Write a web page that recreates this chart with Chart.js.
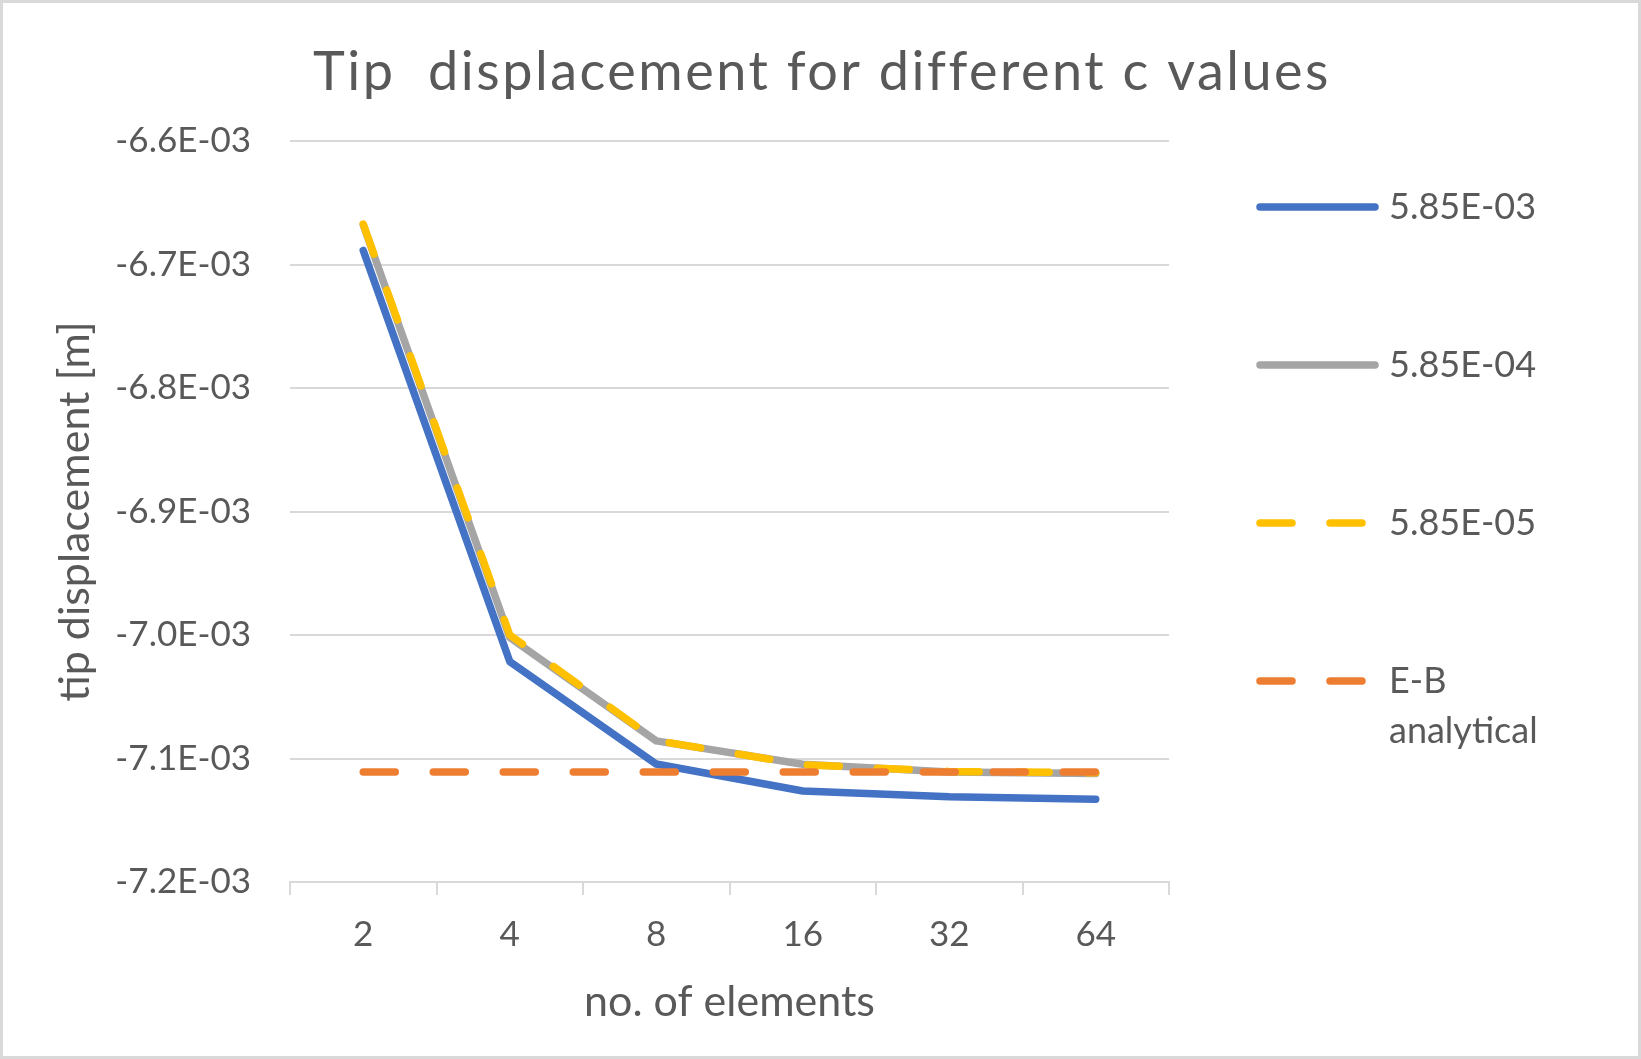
<!DOCTYPE html>
<html>
<head>
<meta charset="utf-8">
<script src="https://cdn.jsdelivr.net/npm/chart.js@4/dist/chart.umd.min.js"></script>
<style>
  html, body { margin: 0; padding: 0; background: #ffffff; }
  canvas { display: block; }
</style>
</head>
<body>
<canvas id="chart-canvas" width="1641" height="1059"></canvas>
<script>
// ----- chart data -----
var categories = ["2", "4", "8", "16", "32", "64"];
var seriesNames = ["5.85E-03", "5.85E-04", "5.85E-05", "E-B analytical"];
var cHigh = [-6.6886e-3, -7.0215e-3, -7.1045e-3, -7.1263e-3, -7.1310e-3, -7.1330e-3];
var cMid = [-6.6680e-3, -7.0020e-3, -7.0857e-3, -7.1046e-3, -7.1110e-3, -7.1122e-3];
var cLow = [-6.6672e-3, -7.0000e-3, -7.0855e-3, -7.1050e-3, -7.1105e-3, -7.1115e-3];
var ebAnalytical = [-7.111e-3, -7.111e-3, -7.111e-3, -7.111e-3, -7.111e-3, -7.111e-3];
var yMin = -7.2e-3;
var yMax = -6.6e-3;
var yStep = 1e-4;
var chartTitle = "Tip  displacement for different c values";

var TEXT = "#595959";
var GRID = "#d9d9d9";
var FONT = "Lato, 'Open Sans', sans-serif";

/**
 * Excel-like "-6.6E-03" formatting for the y ticks.
 */
function fmtTick(v) {
  return (v * 1000).toFixed(1) + "E-03";
}

function makeSet(label, data, color, dash, order) {
  return {
    label: label,
    data: data,
    borderColor: color,
    backgroundColor: color,
    borderWidth: 7.5,
    borderDash: dash,
    borderCapStyle: "round",
    borderJoinStyle: "round",
    pointRadius: 0,
    pointHoverRadius: 0,
    tension: 0,
    fill: false,
    order: order,
  };
}

// White page, thin grey frame and the title centred on the whole picture
var framePlugin = {
  id: "frame",
  beforeDraw: function(chart) {
    var ctx = chart.ctx;
    ctx.save();
    ctx.fillStyle = "#ffffff";
    ctx.fillRect(0, 0, chart.width, chart.height);
    ctx.restore();
  },
  afterDraw: function(chart) {
    var ctx = chart.ctx;
    ctx.save();
    ctx.strokeStyle = GRID;
    ctx.lineWidth = 3;
    ctx.strokeRect(1.5, 1.5, chart.width - 3, chart.height - 3);

    ctx.fillStyle = TEXT;
    ctx.font = "54px " + FONT;
    if ("letterSpacing" in ctx) ctx.letterSpacing = "2.5px";
    ctx.textAlign = "center";
    ctx.textBaseline = "alphabetic";
    ctx.fillText(chartTitle, 822, 90);
    ctx.restore();
  },
};

// Legend on the right, one item per dataset, spaced out like the original
var sideLegend = {
  id: "sideLegend",
  afterDraw: function(chart) {
    var ctx = chart.ctx;
    var x0 = 1256, x1 = 1379, tx = 1389;
    var ys = [207, 365, 523, 681];
    ctx.save();
    ctx.font = "36px " + FONT;
    ctx.textBaseline = "middle";
    ctx.textAlign = "left";
    chart.data.datasets.forEach(function(ds, i) {
      var y = ys[i];
      ctx.beginPath();
      ctx.strokeStyle = ds.borderColor;
      ctx.lineWidth = ds.borderWidth;
      ctx.lineCap = "round";
      ctx.setLineDash(ds.borderDash || []);
      ctx.moveTo(x0 + 4, y);
      ctx.lineTo(x1 - 4, y);
      ctx.stroke();
      ctx.setLineDash([]);
      // simple word wrap
      ctx.fillStyle = TEXT;
      var words = ds.label.split(" ");
      var line = "";
      var ly = y;
      words.forEach(function(w) {
        var test = line ? line + " " + w : w;
        if (line && ctx.measureText(test).width > 170) {
          ctx.fillText(line, tx, ly);
          line = w;
          ly += 50;
        } else {
          line = test;
        }
      });
      if (line) ctx.fillText(line, tx, ly);
    });
    ctx.restore();
  },
};

var canvas = document.getElementById("chart-canvas");
var ctx = canvas.getContext("2d");

var chartInstance = new Chart(ctx, {
  type: "line",
  data: {
    labels: categories,
    datasets: [
      makeSet(seriesNames[0], cHigh, "#4472C4", [], 4),
      makeSet(seriesNames[1], cMid, "#A5A5A5", [], 3),
      makeSet(seriesNames[2], cLow, "#FFC000", [32, 38], 2),
      makeSet(seriesNames[3], ebAnalytical, "#ED7D31", [32, 38], 1),
    ],
  },
  options: {
    responsive: false,
    animation: false,
    events: [],
    layout: { padding: { top: 141, right: 472, bottom: 0, left: 0 } },
    plugins: {
      legend: { display: false },
      tooltip: { enabled: false },
      title: { display: false },
    },
    scales: {
      x: {
        type: "category",
        offset: true,
        grid: {
          display: true,
          offset: true,
          drawOnChartArea: false,
          drawTicks: true,
          tickLength: 13,
          color: GRID,
          lineWidth: 2,
        },
        border: { display: true, color: GRID, width: 2 },
        ticks: {
          color: TEXT,
          font: { family: FONT, size: 35 },
          padding: 19,
          maxRotation: 0,
        },
        title: {
          display: true,
          text: "no. of elements",
          color: TEXT,
          font: { family: FONT, size: 43 },
          padding: { top: 0, bottom: 31 },
        },
        afterFit: function(scale) { scale.height = 177; },
      },
      y: {
        min: yMin,
        max: yMax,
        grid: { color: GRID, lineWidth: 2, drawTicks: false },
        border: { display: false },
        ticks: {
          stepSize: yStep,
          color: TEXT,
          font: { family: FONT, size: 35 },
          padding: 39,
          callback: function(v) { return fmtTick(v); },
        },
        title: {
          display: true,
          text: "tip displacement [m]",
          color: TEXT,
          font: { family: FONT, size: 43 },
          padding: { top: 49, bottom: 0 },
        },
        afterFit: function(scale) { scale.width = 290; },
      },
    },
  },
  plugins: [framePlugin, sideLegend],
});
</script>
</body>
</html>
